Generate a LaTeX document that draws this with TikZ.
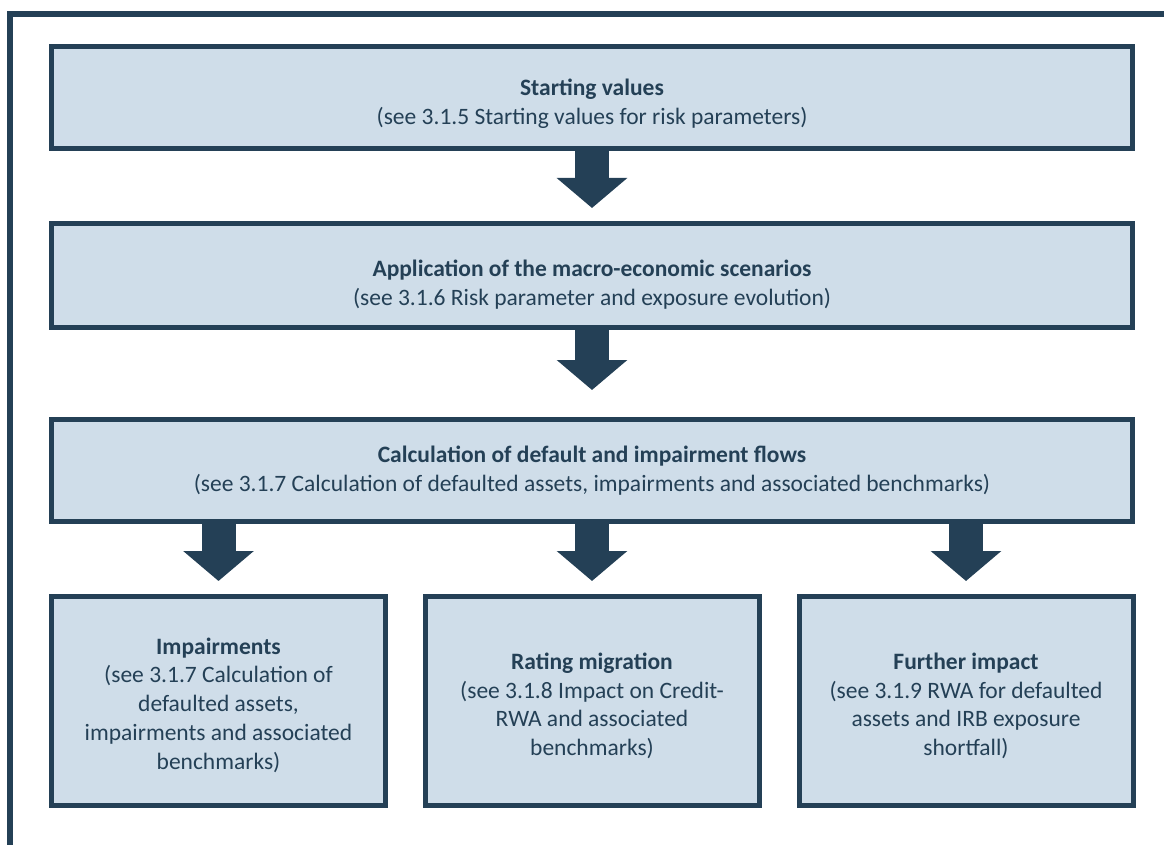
\documentclass[tikz,border=0pt]{standalone}
\usepackage{fontspec}
\setmainfont{Carlito}
\usetikzlibrary{arrows.meta,calc}
\definecolor{navy}{RGB}{36,64,86}
\definecolor{pale}{RGB}{207,221,233}
\begin{document}
\begin{tikzpicture}[x=1pt,y=-1pt,
  box/.style={draw=navy, fill=pale, line width=5pt, inner sep=0pt},
  wide/.style={box, minimum width=1081pt},
  small/.style={box, minimum width=334pt, minimum height=209pt},
  txt/.style={align=center, text=navy, font=\fontsize{23.5}{28.7}\selectfont, inner sep=0pt},
  blk/.style={navy, line width=34pt, -{Triangle[width=69pt,length=30pt]}}]
\useasboundingbox (0,0) rectangle (1164,845);
\draw[navy, line width=5.5pt] (10,845) -- (10,14) -- (1164,14);
\node[wide, minimum height=102pt] (b1) at (592,97.5) {};
\node[wide, minimum height=104pt] (b2) at (592,275.5) {};
\node[wide, minimum height=102pt] (b3) at (592,470.5) {};
\node[small] (l) at (218.5,701) {};
\node[small] (m) at (592,701) {};
\node[small] (r) at (966,701) {};
\node[txt] (t1) at ($(b1.center)+(0,6)$)
  {\textbf{Starting values}\\(see 3.1.5 Starting values for risk parameters)};
\node[txt] (t2) at ($(b2.center)+(0,9)$)
  {\textbf{Application of the macro-economic scenarios}\\(see 3.1.6 Risk parameter and exposure evolution)};
\node[txt] (t3) at (b3.center)
  {\textbf{Calculation of default and impairment flows}\\(see 3.1.7 Calculation of defaulted assets, impairments and associated benchmarks)};
\node[txt] (tl) at ($(l.center)+(0,4)$)
  {\textbf{Impairments}\\(see 3.1.7 Calculation of\\defaulted assets,\\impairments and associated\\benchmarks)};
\node[txt] (tm) at ($(m.center)+(0,5)$)
  {\textbf{Rating migration}\\(see 3.1.8 Impact on Credit-\\RWA and associated\\benchmarks)};
\node[txt] (tr) at ($(r.center)+(0,5)$)
  {\textbf{Further impact}\\(see 3.1.9 RWA for defaulted\\assets and IRB exposure\\shortfall)};
\draw[blk, shorten >=13pt] (b1.south) -- (b2.north);
\draw[blk, shorten >=27pt] (b2.south) -- (b3.north);
\draw[blk, shorten >=13pt] (b3.south -| l.north) -- (l.north);
\draw[blk, shorten >=13pt] (b3.south -| m.north) -- (m.north);
\draw[blk, shorten >=13pt] (b3.south -| r.north) -- (r.north);
\end{tikzpicture}
\end{document}
